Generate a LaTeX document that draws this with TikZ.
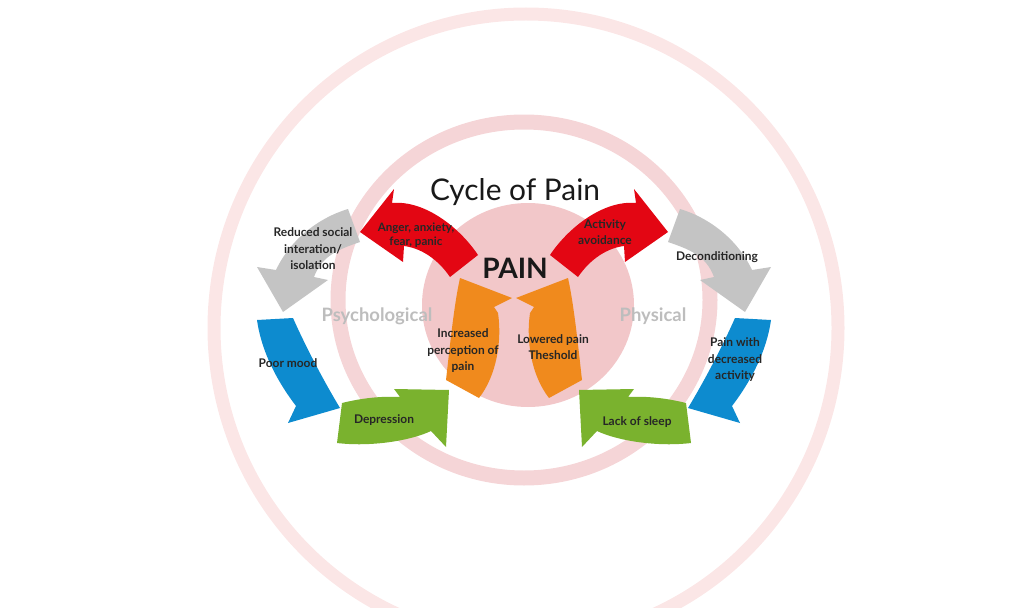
\documentclass[tikz,border=0pt]{standalone}
\usepackage{fontspec}
\setmainfont{Lato}
\usepackage{tikz}

\definecolor{painred}{HTML}{E30613}
\definecolor{paingray}{HTML}{C4C4C4}
\definecolor{painblue}{HTML}{0D8BCF}
\definecolor{paingreen}{HTML}{7AB22E}
\definecolor{painorange}{HTML}{F08A1D}
\definecolor{discpink}{HTML}{F2C7C9}
\definecolor{ringpink}{HTML}{F5D5D7}
\definecolor{halopink}{HTML}{FBE6E6}
\definecolor{sidegray}{HTML}{BDBDBD}

\tikzset{
  cyclelabel/.style={font=\bfseries\fontsize{6.8}{9.4}\selectfont, align=center, text=black!85, inner sep=0pt},
  sidelabel/.style={font=\bfseries\fontsize{10.5}{12}\selectfont, text=sidegray, inner sep=0pt},
}

% the five arrows of the left half, mirrored for the right half
\newcommand{\halfcycle}{%
  \fill[painred] (360,232) -- (394,189) -- (392,203)
    .. controls (425,200) and (460,228) .. (478,255)
    -- (450,277) .. controls (437,258) and (420,248) .. (404,246)
    -- (403,262) -- cycle;
  \fill[paingray] (348,209) .. controls (318,218) and (290,240) .. (276,270)
    -- (257,267) -- (283,312) -- (328,280) -- (314,277)
    .. controls (322,255) and (340,249) .. (360,242) -- cycle;
  \fill[painblue] (257,320) -- (293,318) .. controls (305,345) and (322,378) .. (340,408)
    -- (288,423) -- (296,406) .. controls (280,385) and (262,355) .. (257,320) -- cycle;
  \fill[paingreen] (342,403) .. controls (362,398) and (382,396) .. (400,397)
    -- (394,389) -- (449,390) -- (446,447) -- (431,431)
    .. controls (410,441) and (370,447) .. (337,443) -- cycle;
  \fill[painorange] (446,380) .. controls (450,345) and (454,305) .. (460,278)
    -- (512,298) -- (494,307) -- (498,313)
    .. controls (502,340) and (497,375) .. (479,398) -- cycle;
}

\begin{document}
\begin{tikzpicture}[x=0.02cm, y=-0.02cm]
  \useasboundingbox (0,0) rectangle (1024,608);

  % rings and disc
  \draw[halopink, line width=0.26cm] (526,328) ellipse [x radius=312, y radius=314];
  \draw[ringpink, line width=0.3cm] (524,300) ellipse [x radius=186, y radius=178];
  \fill[discpink] (528,305) ellipse [x radius=106, y radius=102];

  \halfcycle
  \begin{scope}[shift={(1028,0)}, xscale=-1]
    \halfcycle
  \end{scope}

  \node[font=\fontsize{17}{20}\selectfont, text=black!90] (title) at (515,192) {Cycle of Pain};
  \node[font=\bfseries\fontsize{16}{18}\selectfont, text=black!90] (pain) at (515,268) {PAIN};
  \node[sidelabel] (psych) at (377,316) {Psychological};
  \node[sidelabel] (phys) at (653,316) {Physical};

  \node[cyclelabel, font=\bfseries\fontsize{6.6}{7.6}\selectfont] (anger) at (416,235) {Anger, anxiety,\\fear, panic};
  \node[cyclelabel] (activity) at (605,232) {Activity\\avoidance};
  \node[cyclelabel] (reduced) at (313,249) {Reduced social\\interation/\\isolation};
  \node[cyclelabel] (decond) at (717,257) {Deconditioning};
  \node[cyclelabel] (mood) at (288,363) {Poor mood};
  \node[cyclelabel] (depress) at (384,420) {Depression};
  \node[cyclelabel] (perception) at (463,351) {Increased\\perception of\\pain};
  \node[cyclelabel] (threshold) at (553,347) {Lowered pain\\Theshold};
  \node[cyclelabel] (sleep) at (637,422) {Lack of sleep};
  \node[cyclelabel] (decreased) at (735,360) {Pain with\\decreased\\activity};
\end{tikzpicture}
\end{document}
